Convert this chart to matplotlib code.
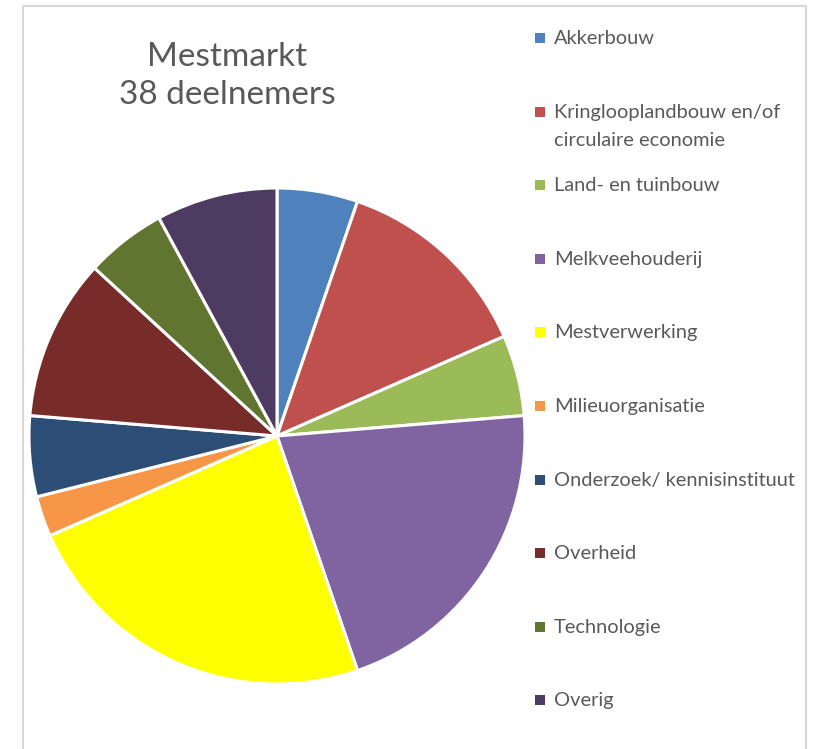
import matplotlib
matplotlib.use("Agg")
import matplotlib.pyplot as plt
from matplotlib.patches import Rectangle

# Data
categories = ["Akkerbouw", "Kringlooplandbouw en/of\ncirculaire economie",
              "Land- en tuinbouw", "Melkveehouderij", "Mestverwerking",
              "Milieuorganisatie", "Onderzoek/ kennisinstituut", "Overheid",
              "Technologie", "Overig"]
counts = [2, 5, 2, 8, 9, 1, 2, 4, 2, 3]
colors = ["#4F81BD", "#C0504D", "#9BBB59", "#8064A2", "#FFFF00",
          "#F79646", "#2C4D75", "#772C2A", "#5F7530", "#4D3B62"]
title = "Mestmarkt\n38 deelnemers"

plt.rcParams['font.family'] = ['Lato', 'DejaVu Sans']
W, H = 820, 749
fig = plt.figure(figsize=(W / 100, H / 100), dpi=100)

# rand om de grafiek
fig.add_artist(Rectangle((23 / W, -0.01), (806 - 23) / W, 1.01 - 6 / H,
                         transform=fig.transFigure, fill=False,
                         edgecolor="#D9D9D9", linewidth=1.5))

cx, cy, r = 277, 436, 248
ax = fig.add_axes([(cx - r) / W, (H - cy - r) / H, 2 * r / W, 2 * r / H])
ax.pie(counts, colors=colors, startangle=90, counterclock=False,
       wedgeprops=dict(edgecolor="white", linewidth=2.2))
ax.set_xlim(-1, 1)
ax.set_ylim(-1, 1)

fig.text(227 / W, 1 - 42 / H, title, ha="center", va="top", fontsize=24,
         color="#595959", linespacing=1.35)

# legenda
y0, step = 38, 73.6
for i, (lab, col) in enumerate(zip(categories, colors)):
    y = y0 + i * step
    fig.add_artist(Rectangle((535 / W, 1 - (y + 5) / H), 10 / W, 10 / H,
                             transform=fig.transFigure, facecolor=col,
                             edgecolor="none"))
    fig.text(554 / W, 1 - (y - 8) / H, lab, ha="left", va="top",
             fontsize=14.4, color="#595959", linespacing=1.8)

fig.savefig("out.png", dpi=100)
